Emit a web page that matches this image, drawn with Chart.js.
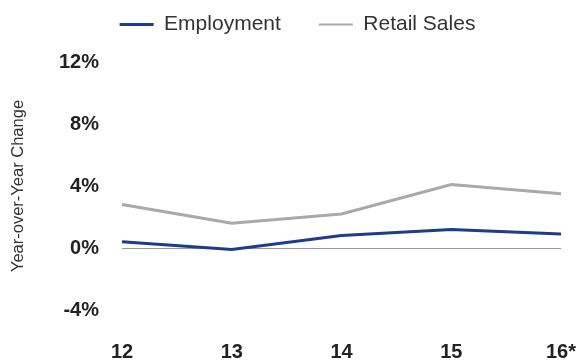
<!DOCTYPE html>
<html>
<head>
<meta charset="utf-8">
<script src="https://cdn.jsdelivr.net/npm/chart.js@4"></script>
<style>
  html, body { margin: 0; padding: 0; background: #fff; }
  #wrap { width: 578px; height: 360px; position: relative; }
</style>
</head>
<body>
<div id="wrap"><canvas id="lineChart"></canvas></div>
<script>
const years = ['12', '13', '14', '15', '16*'];
const employment = [0.4, -0.1, 0.8, 1.2, 0.9];
const retailSales = [2.8, 1.6, 2.2, 4.1, 3.5];
const yTicks = [-4, 0, 4, 8, 12];

const FONT = "'Liberation Sans', Arial, Helvetica, sans-serif";

// legend keeps its wide item spacing but gets a fixed box height
const legendHeight = {
  id: 'legendHeight',
  beforeLayout(chart) {
    const lg = chart.legend;
    if (!lg || lg._patched) return;
    const fit = lg.fit;
    lg.fit = function () {
      fit.call(this);
      this.height = 86;
    };
    lg._patched = true;
  }
};

new Chart(document.getElementById('lineChart'), {
  type: 'line',
  data: {
    labels: years,
    datasets: [
      {
        label: 'Employment',
        data: employment,
        borderColor: '#1f3c8c',
        backgroundColor: '#1f3c8c',
        borderWidth: 3,
        pointRadius: 0,
        tension: 0
      },
      {
        label: 'Retail Sales',
        data: retailSales,
        borderColor: '#a9a9a9',
        backgroundColor: '#a9a9a9',
        borderWidth: 3,
        pointRadius: 0,
        tension: 0
      }
    ]
  },
  options: {
    responsive: true,
    maintainAspectRatio: false,
    animation: false,
    layout: { padding: { top: -24, right: 17, bottom: -34, left: 34 } },
    plugins: {
      tooltip: { enabled: false },
      legend: {
        position: 'top',
        labels: {
          boxWidth: 34,
          boxHeight: 0,
          padding: 38,
          color: '#333',
          font: { family: FONT, size: 21 },
          generateLabels: chart => chart.data.datasets.map((ds, i) => ({
            text: ds.label,
            fillStyle: ds.borderColor,
            strokeStyle: ds.borderColor,
            lineWidth: i === 0 ? 3 : 2,
            fontColor: '#333',
            datasetIndex: i
          }))
        }
      }
    },
    scales: {
      x: {
        offset: false,
        grid: { display: false, drawTicks: false },
        border: { display: false },
        afterFit: axis => { axis.paddingLeft = 0; axis.paddingRight = 0; },
        ticks: {
          color: '#222',
          padding: 30,
          maxRotation: 0,
          font: { family: FONT, size: 20, weight: 'bold' }
        }
      },
      y: {
        min: -4,
        max: 12,
        afterBuildTicks: axis => { axis.ticks = yTicks.map(v => ({ value: v })); },
        afterFit: axis => { axis.width = 88; },
        grid: {
          drawTicks: false,
          color: ctx => ctx.tick && ctx.tick.value === 0 ? '#9a9a9a' : 'rgba(0,0,0,0)',
          lineWidth: 1
        },
        border: { display: false },
        ticks: {
          color: '#222',
          padding: 23,
          font: { family: FONT, size: 20, weight: 'bold' },
          callback: v => v + '%'
        },
        title: {
          display: true,
          text: 'Year-over-Year Change',
          color: '#333',
          padding: { top: -25, bottom: 0 },
          font: { family: FONT, size: 16.5 }
        }
      }
    }
  },
  plugins: [legendHeight]
});
</script>
</body>
</html>
